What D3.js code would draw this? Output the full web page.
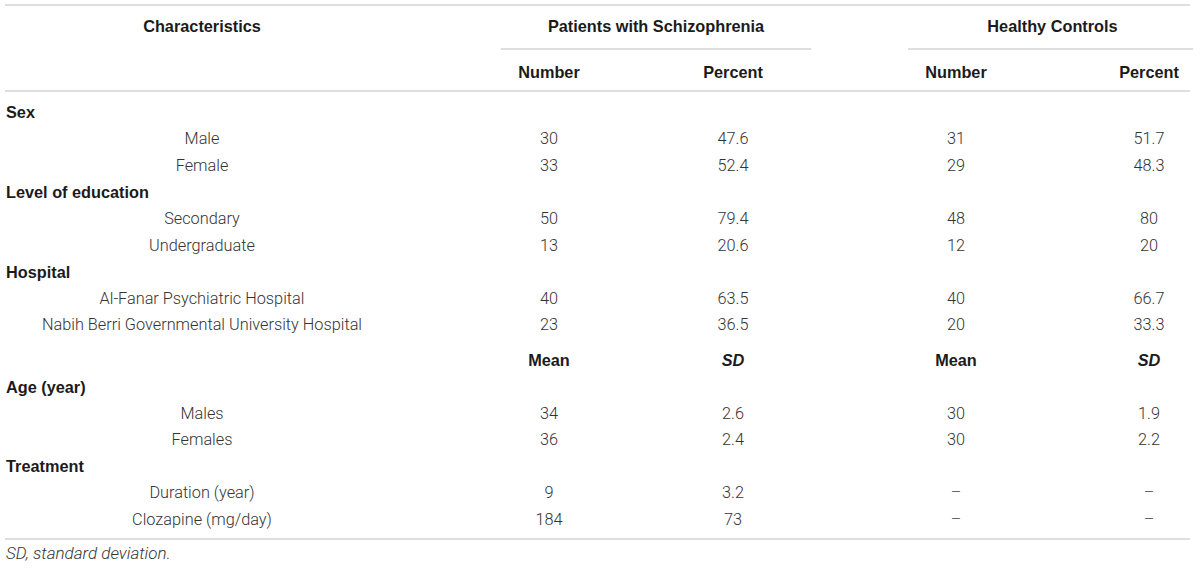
<!DOCTYPE html>
<html>
<head>
<meta charset="utf-8">
<script src="https://cdn.jsdelivr.net/npm/d3@7"></script>
<style>
  body { margin: 0; background: #fff; }
  svg { display: block; }
</style>
</head>
<body>
<div id="table"></div>
<script>
'use strict';

// table content
var groupHeads = ["Patients with Schizophrenia", "Healthy Controls"];
var colHeads = ["Number", "Percent", "Number", "Percent"];
var statHeads = ["Mean", "SD", "Mean", "SD"];
var sections = ["Sex", "Level of education", "Hospital", "Age (year)", "Treatment"];

var rowLabels = ["Sex", "Male", "Female",
  "Level of education", "Secondary", "Undergraduate",
  "Hospital", "Al-Fanar Psychiatric Hospital", "Nabih Berri Governmental University Hospital",
  "", // Mean / SD header row
  "Age (year)", "Males", "Females",
  "Treatment", "Duration (year)", "Clozapine (mg/day)"];

var szNumber  = ["", "30", "33", "", "50", "13", "", "40", "23", "", "", "34", "36", "", "9", "184"];
var szPercent = ["", "47.6", "52.4", "", "79.4", "20.6", "", "63.5", "36.5", "", "", "2.6", "2.4", "", "3.2", "73"];
var hcNumber  = ["", "31", "29", "", "48", "12", "", "40", "20", "", "", "30", "30", "", "\u2013", "\u2013"];
var hcPercent = ["", "51.7", "48.3", "", "80", "20", "", "66.7", "33.3", "", "", "1.9", "2.2", "", "\u2013", "\u2013"];

var footnote = "SD, standard deviation.";

var statRow = 9;

var width = 1200, height = 569;
var lineColor = "#d4d4d4";
var headColor = "#1b1b1b";
var bodyColor = "#333";
var boldFont = "'Liberation Sans', Arial, sans-serif";
var lightFont = "Roboto, 'Liberation Sans', sans-serif";
var fs = 16.3;

var svg = d3.select("#table").append("svg")
  .attr("width", width)
  .attr("height", height);

var x = d3.scaleOrdinal()
  .domain(["label", "c0", "c1", "c2", "c3"])
  .range([202, 549, 733, 956, 1149]);

// row index -> y, with a little extra space before the Mean/SD row
var yBase = d3.scaleLinear().domain([0, 1]).range([112, 138.6]);
var y = function(i) { return yBase(i) + (i >= statRow ? 8.5 : 0); };

function hline(x1, x2, yy) {
  svg.append("line")
    .attr("x1", x1).attr("x2", x2)
    .attr("y1", yy).attr("y2", yy)
    .attr("stroke", lineColor)
    .attr("stroke-width", 1.6);
}

hline(5, 1190, 5);
hline(501, 811, 49);
hline(908, 1193, 49);
hline(5, 1190, 91);
hline(5, 1190, 539);

// headers
var head = svg.append("g")
  .attr("font-family", boldFont)
  .attr("font-weight", "bold")
  .attr("font-size", fs)
  .attr("fill", headColor)
  .attr("text-anchor", "middle")
  .attr("dominant-baseline", "central");

head.append("text").attr("x", x("label")).attr("y", 26).text("Characteristics");
head.selectAll(".grp").data(groupHeads).enter().append("text")
  .attr("class", "grp")
  .attr("x", function(d, i) { return (x("c" + (2 * i)) + x("c" + (2 * i + 1))) / 2 + (i ? 0 : 15); })
  .attr("y", 26)
  .text(function(d) { return d; });
head.selectAll(".col").data(colHeads).enter().append("text")
  .attr("class", "col")
  .attr("x", function(d, i) { return x("c" + i); })
  .attr("y", 72)
  .text(function(d) { return d; });

// body rows
var rows = svg.append("g").attr("dominant-baseline", "central");

rows.selectAll(".lab").data(rowLabels).enter().append("text")
  .attr("class", "lab")
  .attr("x", function(d) { return sections.indexOf(d) >= 0 ? 6 : x("label"); })
  .attr("y", function(d, i) { return y(i); })
  .attr("text-anchor", function(d) { return sections.indexOf(d) >= 0 ? "start" : "middle"; })
  .attr("font-family", function(d) { return sections.indexOf(d) >= 0 ? boldFont : lightFont; })
  .attr("font-weight", function(d) { return sections.indexOf(d) >= 0 ? "bold" : 300; })
  .attr("font-size", fs)
  .attr("fill", function(d) { return sections.indexOf(d) >= 0 ? headColor : bodyColor; })
  .text(function(d) { return d; });

[szNumber, szPercent, hcNumber, hcPercent].forEach(function(col, c) {
  rows.selectAll(".v" + c).data(col).enter().append("text")
    .attr("class", "v" + c)
    .attr("x", x("c" + c))
    .attr("y", function(d, i) { return y(i); })
    .attr("text-anchor", "middle")
    .attr("font-family", lightFont)
    .attr("font-weight", 300)
    .attr("font-size", fs)
    .attr("fill", function(d) { return d === "\u2013" ? "#555" : bodyColor; })
    .text(function(d) { return d; });
});

// Mean / SD sub-header
rows.selectAll(".stat").data(statHeads).enter().append("text")
  .attr("class", "stat")
  .attr("x", function(d, i) { return x("c" + i); })
  .attr("y", y(statRow))
  .attr("text-anchor", "middle")
  .attr("font-family", boldFont)
  .attr("font-weight", "bold")
  .attr("font-style", function(d) { return d === "SD" ? "italic" : "normal"; })
  .attr("font-size", fs)
  .attr("fill", headColor)
  .text(function(d) { return d; });

svg.append("text")
  .attr("x", 6)
  .attr("y", 553)
  .attr("dominant-baseline", "central")
  .attr("font-family", lightFont)
  .attr("font-weight", 300)
  .attr("font-style", "italic")
  .attr("font-size", 17)
  .attr("fill", bodyColor)
  .text(footnote);
</script>
</body>
</html>
